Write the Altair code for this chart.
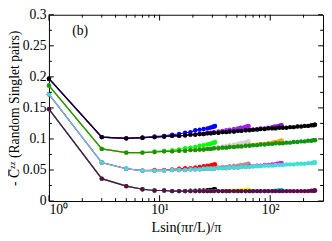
import altair as alt
import pandas as pd

# x positions (L sin(pi r / L) / pi) for each system size
X100 = [1, 3, 5, 7, 9, 11, 13, 15, 17, 19, 21, 23, 25, 27, 28.5, 29.8, 30.7, 31.3, 31.7]
X200 = [1, 3, 5, 7, 9, 11, 13, 15, 17, 19, 21, 23, 25, 27, 29, 31, 34, 37, 40, 43,
        47, 51, 54, 57, 59, 61, 62.5, 63.3, 63.7]
X400 = [1, 3, 5, 7, 9, 11, 13, 15, 17, 19, 21, 23, 25, 27, 29, 31, 34, 37, 40, 43,
        47, 51, 55, 60, 65, 70, 76, 82, 89, 96, 104, 110, 115, 119, 122, 124.5, 126, 127]
X800 = [1, 3, 5, 7, 9, 11, 13, 15, 17, 19, 21, 23, 25, 27, 29, 31, 34, 37, 40, 43,
        47, 51, 55, 60, 65, 70, 76, 82, 89, 96, 104, 112, 121, 130, 140, 151, 163, 176, 190, 205,
        220, 235, 246, 252, 254.5]

# group 1 (top)
G1_100 = [0.197, 0.103, 0.101, 0.102, 0.104, 0.105, 0.107, 0.108, 0.110, 0.111,
          0.114, 0.115, 0.116, 0.117, 0.118, 0.119, 0.120, 0.120, 0.121]
G1_200 = [0.197, 0.103, 0.101, 0.102, 0.103, 0.104, 0.105, 0.105, 0.106, 0.107,
          0.107, 0.108, 0.108, 0.110, 0.110, 0.111, 0.112, 0.113, 0.114, 0.115,
          0.116, 0.117, 0.118, 0.118, 0.119, 0.120, 0.120, 0.120, 0.121]
G1_400 = [0.197, 0.103, 0.101, 0.102, 0.103, 0.104, 0.105, 0.105, 0.106, 0.107,
          0.107, 0.108, 0.108, 0.109, 0.109, 0.110, 0.110, 0.111, 0.111, 0.112,
          0.112, 0.113, 0.113, 0.114, 0.115, 0.115, 0.116, 0.117, 0.117, 0.118,
          0.119, 0.120, 0.120, 0.121, 0.121, 0.122, 0.122, 0.122]
G1_800 = [0.197, 0.103, 0.101, 0.102, 0.103, 0.104, 0.105, 0.105, 0.106, 0.107,
          0.107, 0.108, 0.108, 0.109, 0.109, 0.110, 0.110, 0.111, 0.111, 0.112,
          0.112, 0.113, 0.113, 0.114, 0.114, 0.115, 0.115, 0.116, 0.116, 0.117,
          0.117, 0.117, 0.118, 0.118, 0.118, 0.119, 0.119, 0.120, 0.120, 0.121,
          0.121, 0.122, 0.122, 0.123, 0.123]

# group 2
G2_100 = [0.186, 0.084, 0.078, 0.078, 0.080, 0.081, 0.082, 0.083, 0.085, 0.086,
          0.087, 0.089, 0.090, 0.091, 0.092, 0.093, 0.094, 0.094, 0.095]
G2_200 = [0.186, 0.084, 0.078, 0.078, 0.079, 0.080, 0.080, 0.081, 0.081, 0.082,
          0.082, 0.083, 0.083, 0.085, 0.085, 0.086, 0.087, 0.088, 0.089, 0.090,
          0.091, 0.092, 0.093, 0.094, 0.094, 0.095, 0.095, 0.096, 0.096]
G2_400 = [0.186, 0.084, 0.078, 0.078, 0.079, 0.080, 0.080, 0.081, 0.081, 0.082,
          0.082, 0.083, 0.083, 0.084, 0.084, 0.085, 0.085, 0.086, 0.086, 0.087,
          0.087, 0.088, 0.088, 0.089, 0.090, 0.090, 0.091, 0.092, 0.092, 0.093,
          0.094, 0.095, 0.095, 0.096, 0.096, 0.097, 0.097, 0.097]
G2_800 = [0.186, 0.084, 0.078, 0.078, 0.079, 0.080, 0.080, 0.081, 0.081, 0.082,
          0.082, 0.083, 0.083, 0.084, 0.084, 0.085, 0.085, 0.086, 0.086, 0.087,
          0.087, 0.088, 0.088, 0.089, 0.089, 0.090, 0.090, 0.091, 0.091, 0.092,
          0.092, 0.093, 0.093, 0.093, 0.094, 0.094, 0.095, 0.095, 0.096, 0.096,
          0.097, 0.097, 0.098, 0.098, 0.098]

# group 3
G3_100 = [0.172, 0.062, 0.052, 0.049, 0.050, 0.050, 0.051, 0.052, 0.053, 0.053,
          0.054, 0.055, 0.056, 0.057, 0.057, 0.058, 0.058, 0.059, 0.059]
G3_200 = [0.172, 0.062, 0.052, 0.049, 0.049, 0.049, 0.050, 0.050, 0.050, 0.051,
          0.051, 0.051, 0.052, 0.053, 0.053, 0.053, 0.054, 0.055, 0.055, 0.056,
          0.057, 0.057, 0.058, 0.058, 0.059, 0.059, 0.059, 0.060, 0.060]
G3_400 = [0.172, 0.062, 0.052, 0.049, 0.049, 0.049, 0.050, 0.050, 0.050, 0.051,
          0.051, 0.051, 0.052, 0.052, 0.052, 0.052, 0.053, 0.053, 0.053, 0.054,
          0.054, 0.054, 0.055, 0.055, 0.056, 0.056, 0.057, 0.057, 0.058, 0.058,
          0.059, 0.059, 0.060, 0.060, 0.060, 0.061, 0.061, 0.061]
G3_800 = [0.172, 0.062, 0.052, 0.049, 0.049, 0.049, 0.050, 0.050, 0.050, 0.051,
          0.051, 0.051, 0.052, 0.052, 0.052, 0.052, 0.053, 0.053, 0.053, 0.054,
          0.054, 0.054, 0.055, 0.055, 0.055, 0.056, 0.056, 0.056, 0.057, 0.057,
          0.057, 0.058, 0.058, 0.058, 0.059, 0.059, 0.059, 0.060, 0.060, 0.060,
          0.061, 0.061, 0.062, 0.062, 0.062]

# group 4 (bottom)
G4_100 = [0.148, 0.036, 0.024, 0.019, 0.017, 0.017, 0.016, 0.016, 0.016, 0.0165,
          0.0165, 0.017, 0.017, 0.0175, 0.018, 0.018, 0.0185, 0.019, 0.019]
G4_200 = [0.148, 0.036, 0.024, 0.019, 0.017, 0.017, 0.016, 0.016, 0.016, 0.016,
          0.016, 0.016, 0.016, 0.016, 0.016, 0.016, 0.016, 0.016, 0.0165, 0.0165,
          0.017, 0.017, 0.0175, 0.0175, 0.018, 0.018, 0.018, 0.0185, 0.0185]
G4_400 = [0.148, 0.036, 0.024, 0.019, 0.017, 0.017, 0.016, 0.016, 0.016, 0.016,
          0.016, 0.016, 0.016, 0.016, 0.016, 0.016, 0.016, 0.016, 0.016, 0.016,
          0.016, 0.016, 0.016, 0.016, 0.016, 0.016, 0.016, 0.016, 0.016, 0.016,
          0.016, 0.0165, 0.0165, 0.017, 0.017, 0.017, 0.0175, 0.0175]
G4_800 = [0.148, 0.036, 0.024, 0.019, 0.017, 0.017, 0.016, 0.016, 0.016, 0.016,
          0.016, 0.016, 0.016, 0.016, 0.016, 0.016, 0.016, 0.016, 0.016, 0.016,
          0.016, 0.016, 0.016, 0.016, 0.016, 0.016, 0.016, 0.016, 0.016, 0.016,
          0.016, 0.016, 0.016, 0.016, 0.016, 0.016, 0.016, 0.016, 0.016, 0.016,
          0.016, 0.0165, 0.0165, 0.017, 0.017]

SIZES = [100, 200, 400, 800]
XS = {100: X100, 200: X200, 400: X400, 800: X800}
SERIES = {
    ("g1", 100): (G1_100, "#0000ff"), ("g1", 200): (G1_200, "#a020f0"),
    ("g1", 400): (G1_400, "#8a1fd0"), ("g1", 800): (G1_800, "#000000"),
    ("g2", 100): (G2_100, "#00ff00"), ("g2", 200): (G2_200, "#d3d3d3"),
    ("g2", 400): (G2_400, "#ffa500"), ("g2", 800): (G2_800, "#119411"),
    ("g3", 100): (G3_100, "#ff0000"), ("g3", 200): (G3_200, "#bc8f8f"),
    ("g3", 400): (G3_400, "#ff00ff"), ("g3", 800): (G3_800, "#40e0d0"),
    ("g4", 100): (G4_100, "#000000"), ("g4", 200): (G4_200, "#ffff00"),
    ("g4", 400): (G4_400, "#00ced1"), ("g4", 800): (G4_800, "#5c0a4a"),
}

YT_MAJOR = [0, 0.05, 0.1, 0.15, 0.2, 0.25, 0.3]
YT_MINOR = [0.025, 0.075, 0.125, 0.175, 0.225, 0.275]
XT_MAJOR = [1, 10, 100]
XT_MINOR = [2, 3, 4, 5, 6, 7, 8, 9, 20, 30, 40, 50, 60, 70, 80, 90, 200]

W, H = 281, 191
FONT = "Liberation Serif"

rows = []
for (g, L), (ys, col) in SERIES.items():
    for x, y in zip(XS[L], ys):
        rows.append({"x": x, "y": y, "series": f"{g}_L{L}", "L": L})
df = pd.DataFrame(rows)

dom = [f"{g}_L{L}" for (g, L) in SERIES.keys()]
rng = [c for (_, c) in SERIES.values()]
cscale = alt.Scale(domain=dom, range=rng)

xscale = alt.Scale(type="log", domain=[1, 300], nice=False)
yscale = alt.Scale(domain=[0, 0.3], nice=False, zero=False)

XTITLE = "Lsin(πr/L)/π"
YTITLE = "- C̅ᶻᶻ (Random Singlet pairs)"

xaxis = alt.Axis(values=XT_MAJOR, tickSize=0, domain=False, grid=False,
                 labelExpr="datum.value == 1 ? '10⁰' : datum.value == 10 ? '10¹' : '10²'",
                 labelFont=FONT, labelFontSize=14, labelColor="black", labelPadding=2,
                 title=XTITLE, titleFont=FONT, titleFontSize=14.5, titleFontWeight="normal",
                 titleColor="black", titleY=20, titleBaseline="top")
yaxis = alt.Axis(values=YT_MAJOR, format="~g", tickSize=0, domain=False, grid=False,
                 labelFont=FONT, labelFontSize=14, labelColor="black", labelPadding=3,
                 title=YTITLE, titleFont=FONT, titleFontSize=14,
                 titleFontWeight="normal", titleColor="black", titleAngle=270,
                 titleX=-42, titleY=H / 2, titleBaseline="top", titleAlign="center")


def X(field):
    return alt.X(field, scale=xscale, axis=xaxis, title=XTITLE)


def Y(field):
    return alt.Y(field, scale=yscale, axis=yaxis, title=YTITLE)


layers = []
for L in SIZES:
    sub = df[df["L"] == L]
    line = alt.Chart(sub).mark_line(strokeWidth=1.2).encode(
        x=X("x:Q"), y=Y("y:Q"),
        color=alt.Color("series:N", scale=cscale, legend=None),
        order=alt.Order("x:Q"))
    pts = alt.Chart(sub).mark_point(filled=True, size=20, opacity=1).encode(
        x=X("x:Q"), y=Y("y:Q"),
        color=alt.Color("series:N", scale=cscale, legend=None))
    layers += [line, pts]

ymaj = pd.DataFrame({"v": YT_MAJOR})
ymin = pd.DataFrame({"v": YT_MINOR})
xmaj = pd.DataFrame({"v": XT_MAJOR})
xmin = pd.DataFrame({"v": XT_MINOR})


def yticks(d, ln):
    base = alt.Chart(d).mark_rule(color="black", strokeWidth=1)
    return [base.encode(y=Y("v:Q"), x=alt.value(0), x2=alt.value(ln)),
            base.encode(y=Y("v:Q"), x=alt.value(W), x2=alt.value(W - ln))]


def xticks(d, ln):
    base = alt.Chart(d).mark_rule(color="black", strokeWidth=1)
    return [base.encode(x=X("v:Q"), y=alt.value(H), y2=alt.value(H - ln)),
            base.encode(x=X("v:Q"), y=alt.value(0), y2=alt.value(ln))]


ticks = yticks(ymaj, 5) + yticks(ymin, 3) + xticks(xmaj, 6) + xticks(xmin, 3)

label = alt.Chart(pd.DataFrame({"t": ["(b)"]})).mark_text(
    font=FONT, fontSize=14, color="black").encode(
    text="t:N", x=alt.value(32), y=alt.value(17))

chart = alt.layer(*layers, *ticks, label).properties(
    width=W, height=H,
    autosize=alt.AutoSizeParams(type="none"),
    padding={"left": 42, "top": 4, "right": 1, "bottom": 36},
    background="white",
).configure_view(stroke="black", strokeWidth=1)

chart.save("out.html", embed_options={"renderer": "svg", "actions": False})
